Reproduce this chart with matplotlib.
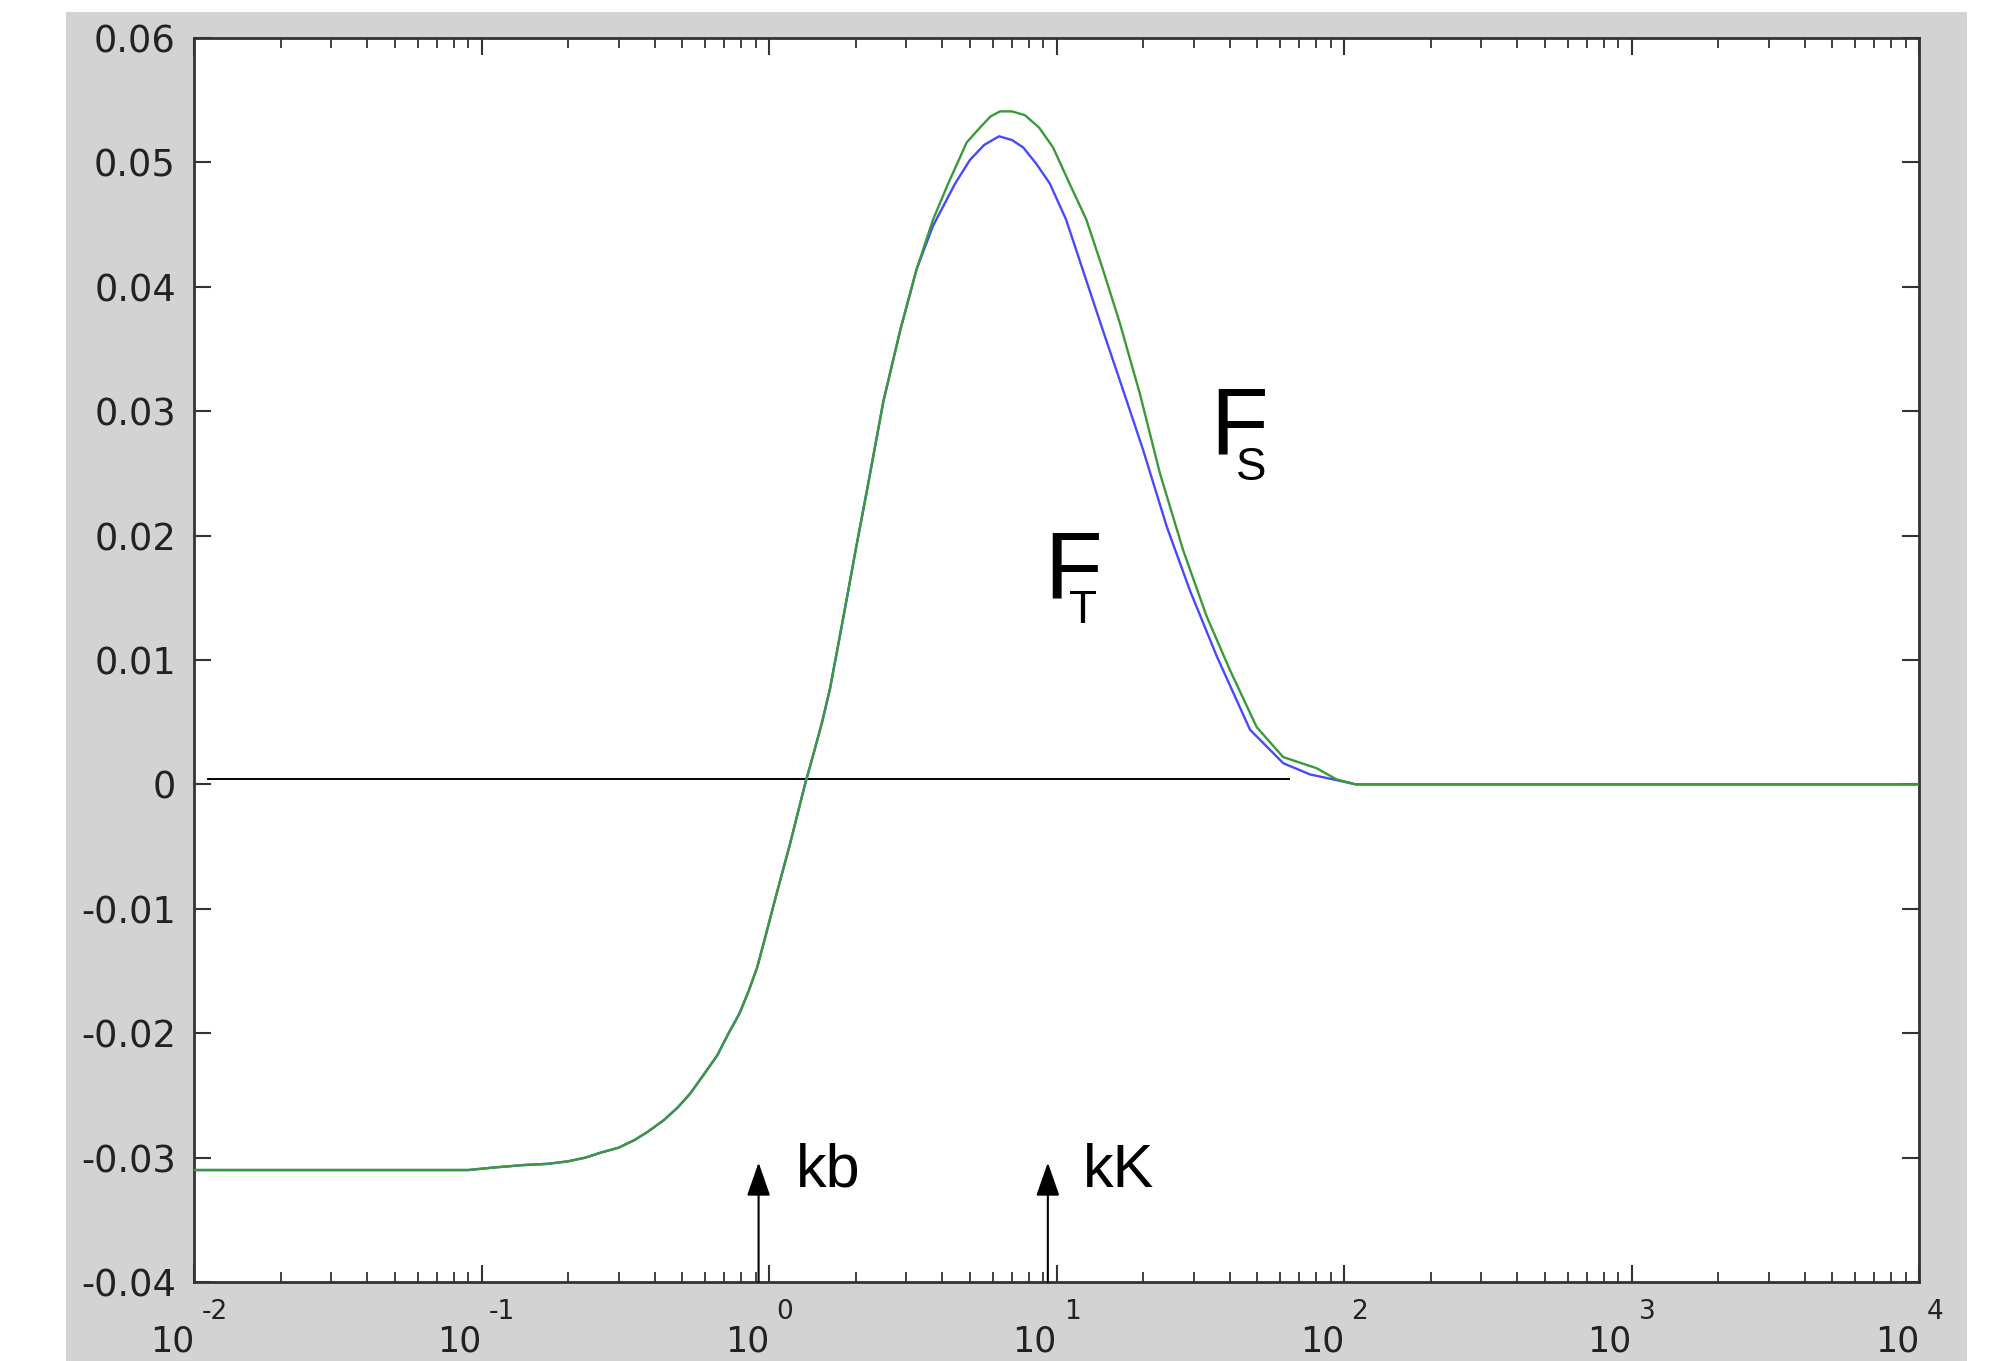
import numpy as np
import matplotlib
matplotlib.use('Agg')
import matplotlib.pyplot as plt
from matplotlib.patches import Rectangle
from matplotlib.ticker import LogLocator, NullFormatter, FixedLocator

# F_S (green)
k_s = [0.01, 0.09, 0.11, 0.14, 0.17, 0.2, 0.23, 0.26, 0.30, 0.34, 0.38, 0.43, 0.48, 0.53, 0.59,
       0.66, 0.72, 0.79, 0.85, 0.91, 0.97, 1.035, 1.1, 1.18, 1.25, 1.334, 1.43, 1.53, 1.63, 1.74,
       1.86, 2.0, 2.19, 2.5, 2.86, 3.26, 3.72, 4.2, 4.87, 5.42, 5.9, 6.36, 7.0, 7.76, 8.7, 9.73,
       11.1, 12.7, 14.5, 16.6, 19.5, 22.9, 27.6, 33.3, 40.1, 49.7, 61.4, 80.3, 94.3, 110, 10000]
f_s = [-0.0310, -0.0310, -0.0308, -0.0306, -0.0305, -0.0303, -0.0300, -0.0296, -0.0292, -0.0286,
       -0.0279, -0.0270, -0.0260, -0.0249, -0.0234, -0.0218, -0.0201, -0.0184, -0.0166, -0.0147,
       -0.0123, -0.0098, -0.0075, -0.0049, -0.0026, 0.0, 0.0025, 0.0050, 0.0077, 0.0112,
       0.0148, 0.0188, 0.0236, 0.0308, 0.0365, 0.0414, 0.0454, 0.0483, 0.0516, 0.0528, 0.0537,
       0.0541, 0.0541, 0.0538, 0.0528, 0.0512, 0.0483, 0.0454, 0.0414, 0.0371, 0.0314, 0.0250,
       0.0188, 0.0135, 0.0092, 0.0046, 0.0022, 0.0013, 0.0004, 0.0, 0.0]

# F_T (blue)
k_t = [0.01, 0.09, 0.11, 0.14, 0.17, 0.2, 0.23, 0.26, 0.30, 0.34, 0.38, 0.43, 0.48, 0.53, 0.59,
       0.66, 0.72, 0.79, 0.85, 0.91, 0.97, 1.035, 1.1, 1.18, 1.25, 1.334, 1.43, 1.53, 1.63, 1.74,
       1.86, 2.0, 2.19, 2.5, 2.86, 3.26, 3.72, 4.44, 5.0, 5.6, 6.31, 7.0, 7.66, 8.5, 9.48, 10.8,
       12.7, 14.5, 17.1, 20.0, 24.2, 29.1, 36.1, 47.1, 61.5, 76.2, 91.8, 110, 10000]
f_t = [-0.0310, -0.0310, -0.0308, -0.0306, -0.0305, -0.0303, -0.0300, -0.0296, -0.0292, -0.0286,
       -0.0279, -0.0270, -0.0260, -0.0249, -0.0234, -0.0218, -0.0201, -0.0184, -0.0166, -0.0147,
       -0.0123, -0.0098, -0.0075, -0.0049, -0.0026, 0.0, 0.0025, 0.0050, 0.0077, 0.0112,
       0.0148, 0.0188, 0.0236, 0.0308, 0.0365, 0.0414, 0.0449, 0.0483, 0.0502, 0.0514, 0.0521,
       0.0518, 0.0512, 0.0499, 0.0483, 0.0454, 0.0405, 0.0365, 0.0316, 0.0269, 0.0207,
       0.0156, 0.0103, 0.0044, 0.0017, 0.0008, 0.0004, 0.0, 0.0]

y_ticks = [-0.04, -0.03, -0.02, -0.01, 0, 0.01, 0.02, 0.03, 0.04, 0.05, 0.06]
y_labels = ['-0.04', '-0.03', '-0.02', '-0.01', '0', '0.01', '0.02', '0.03', '0.04', '0.05', '0.06']
x_decades = [-2, -1, 0, 1, 2, 3, 4]
zero_line_x = [0.0112, 64.4]
zero_line_y = [0.0004, 0.0004]
k_b = 0.92
k_K = 9.33

plt.rcParams['axes.unicode_minus'] = False

fig = plt.figure(figsize=(20.11, 13.61), dpi=100, facecolor='white')
# grey matlab-style figure background
fig.patches.append(Rectangle((66 / 2011, 0), (1967 - 66) / 2011, (1361 - 12) / 1361,
                             transform=fig.transFigure, facecolor='#d3d3d3',
                             edgecolor='none', zorder=-10))

ax = fig.add_axes([194 / 2011, 79 / 1361, 1725 / 2011, 1244 / 1361])
ax.set_zorder(1)
ax.set_facecolor('white')
ax.set_xscale('log')
ax.set_xlim(1e-2, 1e4)
ax.set_ylim(-0.04, 0.06)

ax.plot(k_t, f_t, color='#4848ff', lw=1.7, zorder=3)
ax.plot(k_s, f_s, color='#3a9a3a', lw=1.7, zorder=4)
ax.plot(zero_line_x, zero_line_y, color='black', lw=1.4, zorder=2)

# arrows for kb and kK
for kx in [k_b, k_K]:
    ax.annotate('', xy=(kx, -0.0304), xytext=(kx, -0.04),
                arrowprops=dict(arrowstyle='-|>,head_length=0.4,head_width=0.14',
                                color='black', lw=1.5, mutation_scale=52,
                                shrinkA=0, shrinkB=0), zorder=5)

lab = ['Liberation Sans', 'DejaVu Sans']
ax.text(1.24, -0.0323, 'kb', fontsize=44, family=lab, ha='left', va='baseline')
ax.text(12.36, -0.0324, 'kK', fontsize=44, family=lab, ha='left', va='baseline')
ax.text(34.2, 0.0266, 'F', fontsize=68, family=lab, ha='left', va='baseline')
ax.text(42.1, 0.0245, 'S', fontsize=33, family=lab, ha='left', va='baseline')
ax.text(9.05, 0.0150, 'F', fontsize=68, family=lab, ha='left', va='baseline')
ax.text(11.05, 0.0130, 'T', fontsize=33, family=lab, ha='left', va='baseline')

# axes frame and ticks
for sp in ax.spines.values():
    sp.set_linewidth(2.0)
    sp.set_color('#333333')
ax.yaxis.set_major_locator(FixedLocator(y_ticks))
ax.set_yticklabels(y_labels)
ax.xaxis.set_major_locator(FixedLocator([10.0 ** d for d in x_decades]))
ax.xaxis.set_minor_locator(LogLocator(base=10, subs=np.arange(2, 10), numticks=20))
ax.xaxis.set_major_formatter(NullFormatter())
ax.xaxis.set_minor_formatter(NullFormatter())
ax.tick_params(axis='both', which='major', direction='in', top=True, right=True,
               length=12, width=1.5, color='#333333')
ax.tick_params(axis='x', which='minor', direction='in', top=True, length=7, width=1.3,
               color='#333333')
ax.tick_params(axis='y', which='major', labelsize=26.5, pad=13, labelcolor='#222222')

# x labels as 10 with raised exponent
for d in x_decades:
    ax.text(10.0 ** d, -0.0456, '10', fontsize=25, ha='right', va='baseline',
            color='#222222', clip_on=False)
    ax.text(10.0 ** d * 1.06, -0.0430, str(d), fontsize=19,
            ha='left', va='baseline', color='#222222', clip_on=False)

fig.savefig('out.png', dpi=100, facecolor=fig.get_facecolor())
